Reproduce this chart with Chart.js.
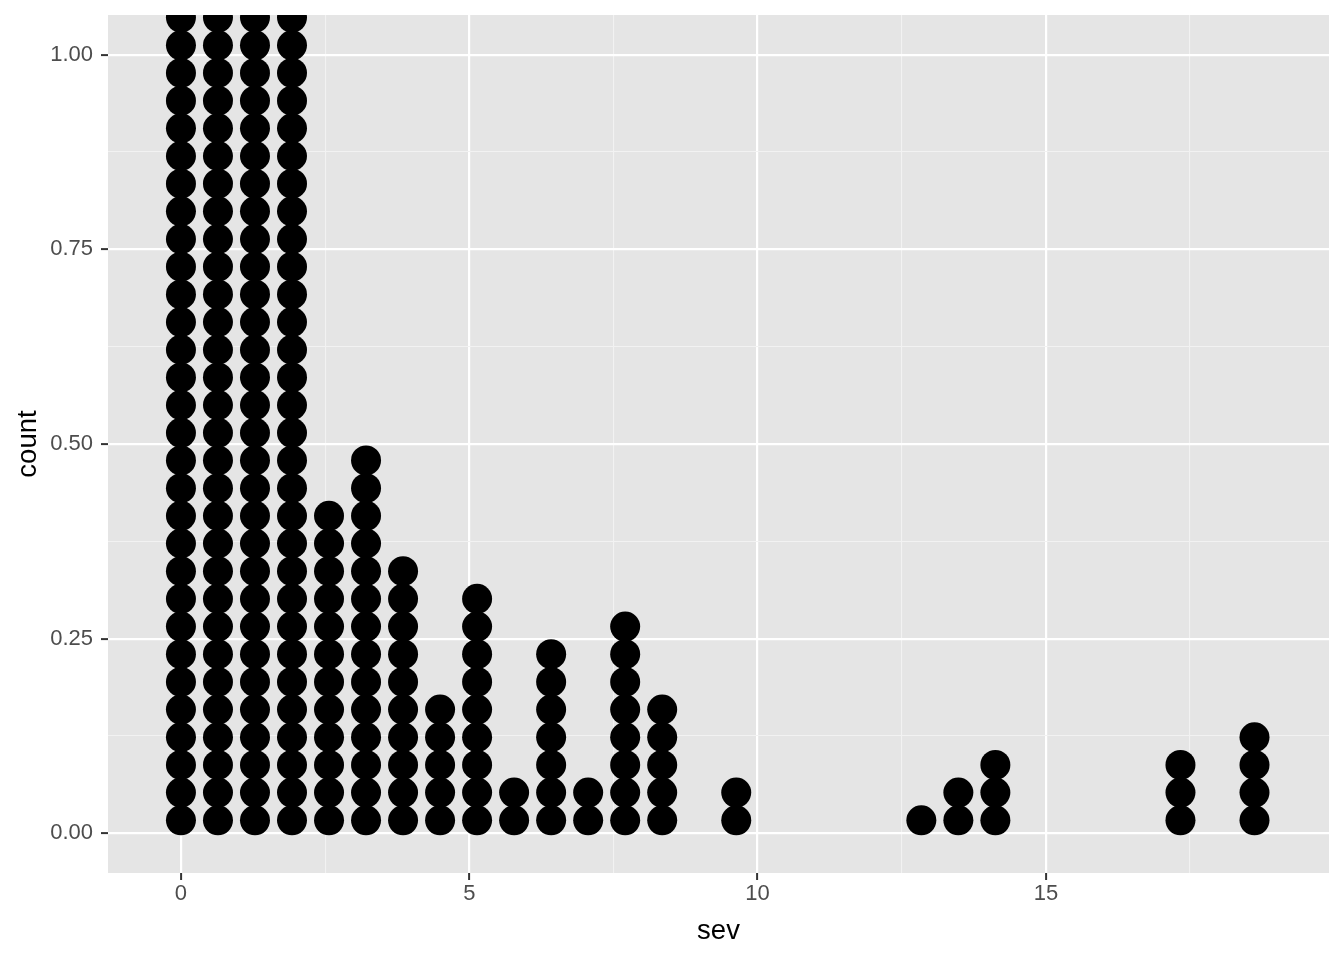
<!DOCTYPE html>
<html lang="en">
<head>
    <meta charset="UTF-8">
    <title>sev dotplot</title>
    <script src="https://cdn.jsdelivr.net/npm/chart.js"></script>
    <style>
        html, body { margin: 0; padding: 0; background: #fff; }
        .chart-container { position: relative; width: 1344px; height: 960px; }
    </style>
</head>
<body>
    <div class="chart-container">
        <canvas id="dotChart"></canvas>
    </div>

    <script>
        // bin centres (sev) and number of dots stacked in each bin
        const sevBins = [0, 0.642, 1.284, 1.926, 2.568, 3.21, 3.852, 4.494, 5.136, 5.778,
                         6.42, 7.062, 7.704, 8.346, 9.63, 12.84, 13.482, 14.124, 17.334, 18.618];
        const binCounts = [36, 34, 33, 31, 12, 14, 10, 5, 9, 2,
                           7, 2, 8, 5, 2, 1, 2, 3, 3, 4];

        const xTicks = [0, 5, 10, 15];
        const xMinor = [2.5, 7.5, 12.5, 17.5];
        const yTicks = [0, 0.25, 0.5, 0.75, 1];
        const yMinor = [0.125, 0.375, 0.625, 0.875];

        // stacked dot layout (in count-axis units)
        const stackStart = 0.0167;
        const stackStep = 0.03555;

        const points = [];
        sevBins.forEach((x, i) => {
            for (let k = 0; k < binCounts[i]; k++) {
                points.push({ x: x, y: stackStart + k * stackStep });
            }
        });

        const panelBg = {
            id: 'panelBg',
            beforeDraw(chart) {
                const { ctx, chartArea: a } = chart;
                ctx.save();
                ctx.fillStyle = '#e5e5e5';
                ctx.fillRect(a.left, a.top, a.right - a.left, a.bottom - a.top);
                ctx.restore();
            }
        };

        const isMajor = (list, v) => list.some(t => Math.abs(t - v) < 1e-9);
        const tickFont = { family: 'Liberation Sans, Arial', size: 22 };
        const titleFont = { family: 'Liberation Sans, Arial', size: 27.5 };

        const ctx = document.getElementById('dotChart').getContext('2d');
        new Chart(ctx, {
            type: 'scatter',
            data: {
                datasets: [{
                    data: points,
                    backgroundColor: '#000',
                    borderWidth: 0,
                    pointRadius: 15,
                    pointHoverRadius: 15,
                    clip: 0
                }]
            },
            options: {
                responsive: true,
                maintainAspectRatio: false,
                animation: false,
                layout: { padding: { left: 0, right: 14, top: 14, bottom: 0 } },
                plugins: {
                    legend: { display: false },
                    tooltip: { enabled: false }
                },
                scales: {
                    x: {
                        type: 'linear',
                        min: -1.265,
                        max: 19.91,
                        afterBuildTicks: (s) => {
                            s.ticks = xTicks.concat(xMinor).sort((a, b) => a - b).map(v => ({ value: v }));
                        },
                        afterFit: (s) => {
                            s.height = 87;
                            s.paddingLeft = 0;
                            s.paddingRight = 0;
                        },
                        border: { display: false },
                        grid: {
                            color: (c) => isMajor(xTicks, c.tick.value) ? '#ffffff' : '#f2f2f2',
                            lineWidth: (c) => isMajor(xTicks, c.tick.value) ? 2.2 : 1.1,
                            tickColor: (c) => isMajor(xTicks, c.tick.value) ? '#333333' : 'rgba(0,0,0,0)',
                            tickLength: 7,
                            tickWidth: 2
                        },
                        ticks: {
                            color: '#4d4d4d',
                            font: tickFont,
                            padding: 1,
                            maxRotation: 0,
                            autoSkip: false,
                            callback: (v) => isMajor(xTicks, v) ? String(v) : ''
                        },
                        title: {
                            display: true,
                            text: 'sev',
                            color: '#000',
                            font: titleFont,
                            padding: { top: 4, bottom: 12 }
                        }
                    },
                    y: {
                        type: 'linear',
                        min: -0.051,
                        max: 1.051,
                        afterBuildTicks: (s) => {
                            s.ticks = yTicks.concat(yMinor).sort((a, b) => a - b).map(v => ({ value: v }));
                        },
                        afterFit: (s) => {
                            s.width = 108;
                            s.paddingTop = 0;
                            s.paddingBottom = 0;
                        },
                        border: { display: false },
                        grid: {
                            color: (c) => isMajor(yTicks, c.tick.value) ? '#ffffff' : '#f2f2f2',
                            lineWidth: (c) => isMajor(yTicks, c.tick.value) ? 2.2 : 1.1,
                            tickColor: (c) => isMajor(yTicks, c.tick.value) ? '#333333' : 'rgba(0,0,0,0)',
                            tickLength: 7,
                            tickWidth: 2
                        },
                        ticks: {
                            color: '#4d4d4d',
                            font: tickFont,
                            padding: 8,
                            autoSkip: false,
                            callback: (v) => isMajor(yTicks, v) ? v.toFixed(2) : ''
                        },
                        title: {
                            display: true,
                            text: 'count',
                            color: '#000',
                            font: titleFont,
                            padding: { top: 12, bottom: 0 }
                        }
                    }
                }
            },
            plugins: [panelBg]
        });
    </script>
</body>
</html>
